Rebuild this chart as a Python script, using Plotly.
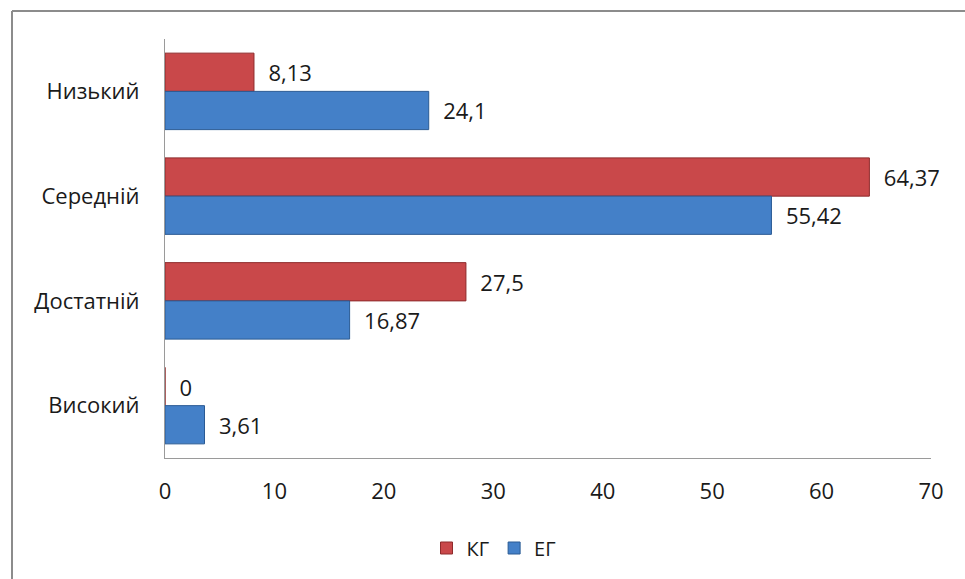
import plotly.graph_objects as go

categories = ["Низький", "Середній", "Достатній", "Високий"]
kg_values = [8.13, 64.37, 27.5, 0]
eg_values = [24.1, 55.42, 16.87, 3.61]
kg_labels = ["8,13", "64,37", "27,5", "0"]
eg_labels = ["24,1", "55,42", "16,87", "3,61"]
x_ticks = [0, 10, 20, 30, 40, 50, 60, 70]

FONT = "Open Sans"
FS = 22
W, H = 965, 579
L, R, T, B = 165, 34, 39, 121
pw, ph = W - L - R, H - T - B

fig = go.Figure()
fig.add_trace(go.Bar(
    y=categories, x=kg_values, orientation="h", name="КГ",
    marker=dict(color="#C9484A", line=dict(color="#8E2A2B", width=1)),
    text=kg_labels, texttemplate="\u00a0\u00a0%{text}", textposition="outside", cliponaxis=False,
    textfont=dict(size=FS, color="#1a1a1a", family=FONT),
))
fig.add_trace(go.Bar(
    y=categories, x=eg_values, orientation="h", name="ЕГ",
    marker=dict(color="#4480C8", line=dict(color="#2A5A94", width=1)),
    text=eg_labels, texttemplate="\u00a0\u00a0%{text}", textposition="outside", cliponaxis=False,
    textfont=dict(size=FS, color="#1a1a1a", family=FONT),
))

# outer frame (top and left edges visible)
fx = (12 - L) / pw
fy = (H - B - 11) / ph
fig.add_shape(type="line", xref="paper", yref="paper", x0=fx, x1=1.2, y0=fy, y1=fy,
              line=dict(color="#8C8C8C", width=2))
fig.add_shape(type="line", xref="paper", yref="paper", x0=fx, x1=fx, y0=fy, y1=-0.4,
              line=dict(color="#8C8C8C", width=2))

fig.update_layout(
    width=W, height=H,
    margin=dict(l=L, r=R, t=T, b=B, pad=0),
    paper_bgcolor="white", plot_bgcolor="white",
    barmode="group", bargap=0.27, bargroupgap=0,
    font=dict(family=FONT, size=FS, color="#1a1a1a"),
    xaxis=dict(range=[0, 70], tickvals=x_ticks, showgrid=False, zeroline=False,
               showline=True, linecolor="#9a9a9a", linewidth=1, ticks="",
               ticklen=0, tickfont=dict(size=FS), ticklabelstandoff=14, automargin=False),
    yaxis=dict(autorange="reversed", showgrid=False, showline=True,
               linecolor="#9a9a9a", linewidth=1, ticks="", ticklen=0,
               tickfont=dict(size=FS), ticklabelstandoff=20, automargin=False),
    legend=dict(orientation="h", x=(494 - L) / pw, xanchor="center",
                y=-(548 - (H - B)) / ph, yanchor="middle",
                font=dict(size=20), itemwidth=30, traceorder="normal"),
    showlegend=True,
    uniformtext=dict(minsize=FS, mode="show"),
)

fig.write_html("out.html")
